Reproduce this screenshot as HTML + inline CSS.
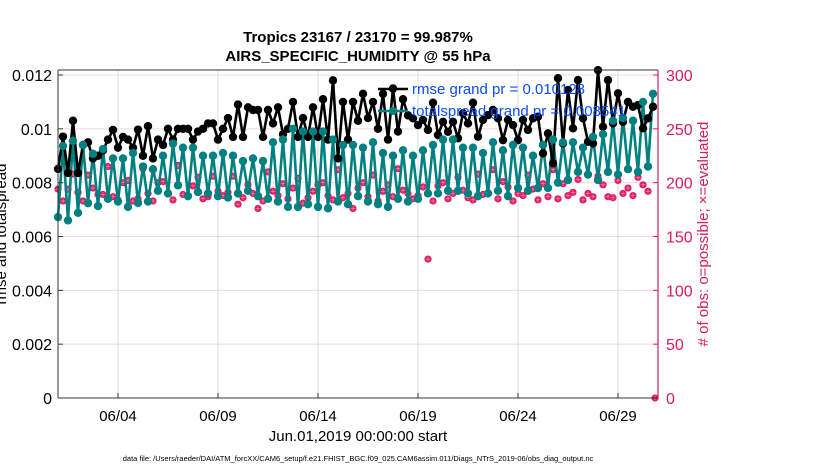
<!DOCTYPE html>
<html><head><meta charset="utf-8">
<style>
body{margin:0;background:#fff;}
svg{display:block;font-family:"Liberation Sans",Arial,sans-serif;}
</style></head>
<body>
<svg id="chart" width="830" height="470" viewBox="0 0 830 470" xmlns="http://www.w3.org/2000/svg">
<rect width="830" height="470" fill="#fff"/>
<g id="grid"></g>
<g id="series"></g>
<g id="axes"></g>
<text x="358" y="42" text-anchor="middle" font-size="15" font-weight="bold">Tropics 23167 / 23170 = 99.987%</text>
<text x="358" y="61" text-anchor="middle" font-size="15" font-weight="bold">AIRS_SPECIFIC_HUMIDITY @ 55 hPa</text>
<text transform="translate(6,234) rotate(-90)" text-anchor="middle" font-size="15">rmse and totalspread</text>
<text transform="translate(708,234) rotate(-90)" text-anchor="middle" font-size="15" fill="#d81b60"># of obs: o=possible; ×=evaluated</text>
<text x="358" y="441" text-anchor="middle" font-size="15">Jun.01,2019 00:00:00 start</text>
<text x="358" y="461" text-anchor="middle" font-size="7.5">data file: /Users/raeder/DAI/ATM_forcXX/CAM6_setup/f.e21.FHIST_BGC.f09_025.CAM6assim.011/Diags_NTrS_2019-06/obs_diag_output.nc</text>
<g>
<line x1="378" y1="89" x2="408" y2="89" stroke="#000" stroke-width="2.5"/>
<circle cx="393" cy="89" r="4" fill="#000"/>
<text x="412" y="94" font-size="15" fill="#0a4cff">rmse grand pr = 0.010128</text>
<line x1="378" y1="111" x2="408" y2="111" stroke="#008080" stroke-width="2.5"/>
<circle cx="393" cy="111" r="4" fill="#008080"/>
<text x="412" y="116" font-size="15" fill="#0a4cff">totalspread grand pr = 0.008541</text>
</g>
</svg>
<script>
const rmse = [8.51,9.71,8.36,10.3,8.36,9.4,9.5,8.9,9.0,9.2,9.6,9.96,9.3,9.7,9.6,9.3,9.97,9.0,10.1,8.9,
9.6,9.4,10.0,9.6,10.0,10.0,10.0,9.6,9.9,10.0,10.2,10.2,9.6,10.0,10.4,9.7,10.9,9.7,10.8,10.7,10.7,9.7,10.7,10.2,10.8,9.8,10.0,11.0,9.7,10.4,9.7,10.8,9.7,11.1,9.6,11.8,8.9,11.0,9.6,11.0,10.3,11.3,10.4,11.0,10.0,11.3,9.6,11.5,9.9,11.1,10.5,
10.39,10.14,10.33,9.96,10.97,9.77,10.26,9.89,10.26,9.65,10.58,10.2,10.97,9.71,10.33,10.51,10.7,10.39,9.58,10.33,10.14,9.58,10.33,9.96,10.39,10.45,9.09,9.83,8.72,11.88,9.46,11.44,10.02,11.81,10.39,9.52,9.46,12.18,10.08,11.81,10.2,11.32,10.26,11.0,10.82,10.88,10.02,10.39,10.82];
const spreadLow = [6.72,6.6,6.88,7.24,7.13,7.4,7.3,7.1,7.25,7.3,7.7,7.6,7.9,7.5,7.65,7.6,7.5,7.45,7.6,7.7,7.5,7.4,7.3,7.1,7.1,7.2,7.1,7.05,7.3,7.2,7.5,7.3,7.2,7.1,7.4,7.3,7.4,7.6,7.6,7.7,7.7,7.6,7.5,7.6,7.7,7.5,7.8,7.7,7.8,7.8,8.0,8.1,8.4,8.3,8.1,8.4,8.3,8.5,8.4,8.6];
const spreadHigh = [9.36,9.55,9.4,9.07,9.25,8.9,8.9,9.1,8.6,8.5,9.0,9.45,9.3,9.3,9.0,9.0,9.1,9.0,8.8,8.9,8.8,9.5,9.6,10.0,9.9,9.9,9.9,9.6,9.4,9.4,9.3,9.5,9.1,9.0,9.2,9.0,9.2,9.4,9.6,9.6,9.3,9.3,9.1,9.5,9.2,9.4,9.3,9.0,9.4,9.6,9.5,9.5,9.3,9.7,9.8,10.3,10.4,10.3,11.0,11.3];
const nobs = [194,183,194,208,191,183,207,195,189,189,215,187,184,200,202,183,185,213,190,183,200,201,190,184,216,189,188,197,205,185,187,206,192,188,191,206,
180,186,198,190,176,183,210,192,188,199,185,195,204,181,186,192,198,200,188,184,212,186,190,176,195,200,187,207,183,192,198,187,213,193,190,185,188,196,129,183,197,200,185,190,
205,193,186,184,208,189,190,212,185,201,196,183,190,188,207,194,184,199,187,212,185,199,188,191,203,184,190,187,206,198,187,186,202,190,195,188,205,198,192,0];
const xTickLabels = ["06/04","06/09","06/14","06/19","06/24","06/29"];
const xTickDays = [3,8,13,18,23,28];
const yLeftTicks = ["0","0.002","0.004","0.006","0.008","0.01","0.012"];
const yRightTicks = ["0","50","100","150","200","250","300"];

const X0=58,X1=658,Y0=398,Y1=75,TOP=70;
const xDay = d => X0 + (X1-X0)*d/30;
const xIdx = i => xDay(i*0.25);
const yL = v => Y0 - (Y0-Y1)*(v/1000)/0.012;
const yR = v => Y0 - (Y0-Y1)*v/300;
const NS="http://www.w3.org/2000/svg";
function mk(tag,attrs,parent){const e=document.createElementNS(NS,tag);for(const k in attrs)e.setAttribute(k,attrs[k]);parent.appendChild(e);return e;}
const grid=document.getElementById('grid'),ser=document.getElementById('series'),ax=document.getElementById('axes');

yLeftTicks.forEach((t,i)=>{
  const y=Y0-(Y0-Y1)*i/6;
  if(i>0){const g=mk('line',{x1:X0,x2:X1,y1:y,y2:y,stroke:'#f0d8e0','stroke-width':1},grid);
  
  }
  const tl=mk('text',{x:X0-6,y:y+6,'text-anchor':'end','font-size':16},ax);tl.textContent=t;
  
  
  const tr=mk('text',{x:X1+8,y:y+6,'font-size':16,fill:'#d81b60'},ax);tr.textContent=yRightTicks[i];
  
  
  mk('line',{x1:X0,x2:X0+5,y1:y,y2:y,stroke:'#333'},ax);
  mk('line',{x1:X1-5,x2:X1,y1:y,y2:y,stroke:'#d81b60'},ax);
});
xTickDays.forEach((d,i)=>{
  const x=xDay(d);
  const g=mk('line',{x1:x,x2:x,y1:TOP,y2:Y0,stroke:'#dcdcdc','stroke-width':1},grid);
  
  
  mk('line',{x1:x,x2:x,y1:Y0,y2:Y0-5,stroke:'#333'},ax);
  const t=mk('text',{x:x,y:Y0+23,'text-anchor':'middle','font-size':15},ax);t.textContent=xTickLabels[i];
  
  
});
mk('line',{x1:X0,x2:X1,y1:TOP,y2:TOP,stroke:'#333'},ax);
mk('line',{x1:X0,x2:X1,y1:Y0,y2:Y0,stroke:'#333'},ax);
mk('line',{x1:X0,x2:X0,y1:TOP,y2:Y0,stroke:'#333'},ax);
mk('line',{x1:X1,x2:X1,y1:TOP,y2:Y0,stroke:'#d81b60','stroke-width':1.2},ax);

nobs.forEach((v,i)=>{
  const x=xIdx(i)+(i===nobs.length-1?2:0), y=yR(v);
  const c=mk('circle',{cx:x,cy:y,r:3.6,fill:'#e01b63'},ser);
  
  
  mk('path',{d:`M${x-2.3} ${y}H${x+2.3}M${x} ${y-2.3}V${y+2.3}`,stroke:'#f6b5c8','stroke-width':0.5},ser);
});
const spread=[];
for(let k=0;k<spreadLow.length;k++){spread.push(spreadLow[k]);spread.push(spreadHigh[k]);}
const sp=mk('polyline',{points:spread.map((v,i)=>xIdx(i)+','+yL(v)).join(' '),fill:'none',stroke:'#008080','stroke-width':2.6},ser);


const rl=mk('polyline',{points:rmse.map((v,i)=>xIdx(i)+','+yL(v)).join(' '),fill:'none',stroke:'#000','stroke-width':2.6},ser);


rmse.forEach((v,i)=>{
  const c=mk('circle',{cx:xIdx(i),cy:yL(v),r:4.2,fill:'#000'},ser);
  
  
});
spread.forEach((v,i)=>{
  const c=mk('circle',{cx:xIdx(i),cy:yL(v),r:4.2,fill:'#008080'},ser);
  
  
});
</script>
</body></html>
